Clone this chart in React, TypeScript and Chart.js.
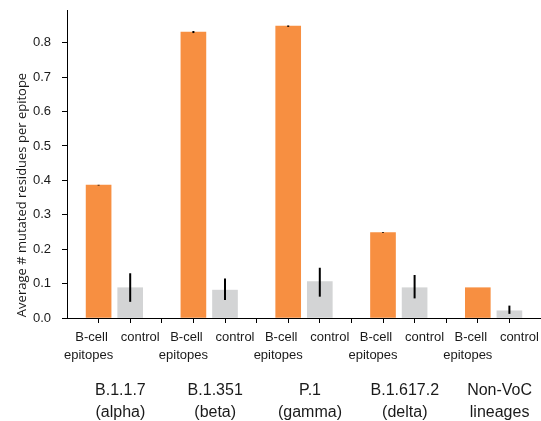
import React, { useEffect, useRef } from "react";
import { Chart, registerables } from "chart.js";
Chart.register(...registerables);

const groupLine1 = ["B.1.1.7", "B.1.351", "P.1", "B.1.617.2", "Non-VoC"];
const groupLine2 = ["(alpha)", "(beta)", "(gamma)", "(delta)", "lineages"];
const barLabels = [["B-cell", "epitopes"], ["control"]];
const bcell = [0.386, 0.831, 0.848, 0.248, 0.088];
const bcellLo = [0.385, 0.828, 0.846, 0.247, 0.088];
const bcellHi = [0.387, 0.834, 0.850, 0.249, 0.088];
const control = [0.088, 0.081, 0.106, 0.088, 0.021];
const controlLo = [0.047, 0.052, 0.062, 0.057, 0.012];
const controlHi = [0.130, 0.115, 0.146, 0.125, 0.036];
const yTicks = [0, 0.1, 0.2, 0.3, 0.4, 0.5, 0.6, 0.7, 0.8];
const yTitle = "Average # mutated residues per epitope";

const ORANGE = "#F78F41";
const GREY = "#D3D4D5";

export default function App() {
  const ref = useRef<HTMLCanvasElement | null>(null);
  useEffect(() => {
    if (!ref.current) return;
    const overlay = {
      id: "overlay",
      afterDatasetsDraw(chart: any) {
        const ctx = chart.ctx;
        const xs = chart.scales.x;
        const ys = chart.scales.y;
        ctx.save();
        ctx.strokeStyle = "#000";
        ctx.lineWidth = 2;
        const drawErr = (x: number, lo: number, hi: number) => {
          const px = xs.getPixelForValue(x);
          ctx.beginPath();
          ctx.moveTo(px, ys.getPixelForValue(lo));
          ctx.lineTo(px, ys.getPixelForValue(hi));
          ctx.stroke();
        };
        bcell.forEach((_, i) => drawErr(i * 3, bcellLo[i], bcellHi[i]));
        control.forEach((_, i) => drawErr(i * 3 + 1, controlLo[i], controlHi[i]));
        ctx.restore();
      },
      afterDraw(chart: any) {
        const ctx = chart.ctx;
        const xs = chart.scales.x;
        const ys = chart.scales.y;
        ctx.save();
        ctx.fillStyle = "#1a1a1a";
        ctx.textAlign = "center";
        ctx.textBaseline = "middle";
        ctx.font = "13px 'Liberation Sans', Arial, sans-serif";
        const base = ys.getPixelForValue(0);
        groupLine1.forEach((_, i) => {
          const pb = xs.getPixelForValue(i * 3);
          const pc = xs.getPixelForValue(i * 3 + 1);
          ctx.fillText(barLabels[0][0], pb - 7, base + 19);
          ctx.fillText(barLabels[0][1], pb - 10, base + 37);
          ctx.fillText(barLabels[1][0], pc + 10, base + 19);
        });
        ctx.font = "16px 'Liberation Sans', Arial, sans-serif";
        groupLine1.forEach((g, i) => {
          const pm = xs.getPixelForValue(i * 3 + 0.5) + 6;
          ctx.fillText(g, pm, base + 73);
          ctx.fillText(groupLine2[i], pm, base + 95);
        });
        ctx.translate(22, 195);
        ctx.rotate(-Math.PI / 2);
        ctx.font = "13px 'Open Sans', sans-serif";
        ctx.fillText(yTitle, 0, 0);
        ctx.restore();
      },
    };
    const chart = new Chart(ref.current, {
      type: "bar",
      data: {
        datasets: [
          {
            label: "B-cell epitopes",
            data: bcell.map((v, i) => ({ x: i * 3, y: v })),
            backgroundColor: ORANGE,
            barThickness: 25,
            grouped: false,
          } as any,
          {
            label: "control",
            data: control.map((v, i) => ({ x: i * 3 + 1, y: v })),
            backgroundColor: GREY,
            barThickness: 25,
            grouped: false,
          } as any,
        ],
      },
      options: {
        animation: false,
        responsive: false,
        maintainAspectRatio: false,
        layout: { padding: { top: 10, left: 0, right: 0, bottom: 0 } },
        plugins: { legend: { display: false }, tooltip: { enabled: false }, title: { display: false } },
        scales: {
          x: {
            type: "linear",
            offset: false,
            min: -1,
            max: 14,
            afterBuildTicks: (s: any) => {
              s.ticks = Array.from({ length: 14 }, (_, i) => ({ value: i }));
            },
            afterFit: (s: any) => {
              s.height = 103;
              s.paddingLeft = 0;
              s.paddingRight = 0;
            },
            ticks: { callback: () => "", autoSkip: false, maxRotation: 0 },
            grid: { drawOnChartArea: false, drawTicks: true, tickLength: 5, color: "#000", lineWidth: 1, offset: false },
            border: { color: "#000", width: 1 },
          },
          y: {
            type: "linear",
            min: 0,
            max: 0.895,
            afterBuildTicks: (s: any) => {
              s.ticks = yTicks.map((v) => ({ value: v }));
            },
            afterFit: (s: any) => {
              s.width = 67;
              s.paddingTop = 0;
              s.paddingBottom = 0;
            },
            ticks: {
              callback: (v: any) => Number(v).toFixed(1),
              color: "#1a1a1a",
              font: { family: "'Liberation Sans', Arial, sans-serif", size: 13 },
              padding: 11,
            },
            grid: { drawOnChartArea: false, drawTicks: true, tickLength: 5, color: "#000", lineWidth: 1 },
            border: { color: "#000", width: 1 },
          },
        },
      },
      plugins: [overlay],
    } as any);
    return () => chart.destroy();
  }, []);
  return (
    <div style={{ position: "fixed", left: 0, top: 0, width: 541, height: 421, background: "#fff" }}>
      <canvas ref={ref} width={541} height={421} style={{ display: "block", width: 541, height: 421 }} />
    </div>
  );
}
